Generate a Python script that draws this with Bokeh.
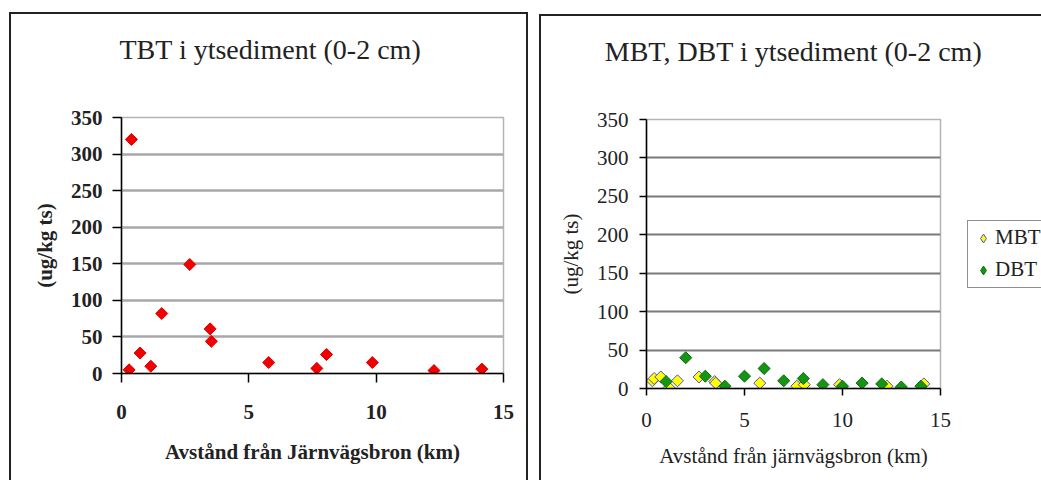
import math
from bokeh.plotting import figure
from bokeh.layouts import row
from bokeh.models import FixedTicker, Legend, LegendItem, Range1d, Title
from bokeh.embed import file_html
from bokeh.resources import INLINE

# ---- data ----
tbt_km = [0.30, 0.39, 0.73, 1.15, 1.58, 2.68, 3.48, 3.53, 5.78, 7.67, 8.05, 9.85, 12.27, 14.15]
tbt_val = [5, 320, 28, 10, 82, 149, 61, 44, 15, 7, 26, 15, 4, 6]

mbt_km = [0.30, 0.39, 0.73, 1.15, 1.58, 2.68, 3.48, 3.53, 5.78, 7.67, 8.05, 9.85, 12.27, 14.15]
mbt_val = [10, 13, 15, 1, 10, 15, 9, 7, 7, 3, 5, 5, 3, 6]

dbt_km = [1, 2, 3, 4, 5, 6, 7, 8, 9, 10, 11, 12, 13, 14]
dbt_val = [9, 40, 16, 3, 16, 26, 10, 13, 5, 3, 7, 6, 2, 3]

x_ticks = [0, 5, 10, 15]
y_ticks = [0, 50, 100, 150, 200, 250, 300, 350]
grid_ticks = [50, 100, 150, 200, 250, 300]

title_left = "TBT i ytsediment (0-2 cm)"
title_right = "MBT, DBT i ytsediment (0-2 cm)"
xlabel_left = "Avstånd från Järnvägsbron (km)"
xlabel_right = "Avstånd från järnvägsbron (km)"
ylabel = "(ug/kg ts)"
legend_labels = ["MBT", "DBT"]

FONT = "Liberation Serif"
PANEL_STYLE = {"outline": "2px solid #222", "outline-offset": "0px"}
MBT_FILL, MBT_LINE = "#ffff00", "#5050c0"
DBT_FILL, DBT_LINE = "#149614", "#0a6a0a"


def style_axes(p, bold, tick_out, xl_standoff, xa_standoff, yl_standoff, ya_standoff):
    p.xaxis.ticker = FixedTicker(ticks=x_ticks)
    p.yaxis.ticker = FixedTicker(ticks=y_ticks)
    p.xgrid.visible = False
    p.ygrid.ticker = FixedTicker(ticks=grid_ticks)
    for ax in (p.xaxis[0], p.yaxis[0]):
        ax.axis_line_color = "black"
        ax.axis_line_width = 1.5
        ax.major_tick_line_color = "black"
        ax.major_tick_line_width = 1.5
        ax.major_tick_out = tick_out
        ax.major_tick_in = 0
        ax.minor_tick_line_color = None
        ax.major_label_text_font = FONT
        ax.major_label_text_font_size = "21px"
        ax.major_label_text_color = "#222"
        ax.major_label_text_font_style = "bold" if bold else "normal"
        ax.axis_label_text_font = FONT
        ax.axis_label_text_font_size = "21px"
        ax.axis_label_text_color = "#222"
        ax.axis_label_text_font_style = "bold" if bold else "normal"
    p.xaxis.major_label_standoff = xl_standoff
    p.xaxis.axis_label_standoff = xa_standoff
    p.yaxis.major_label_standoff = yl_standoff
    p.yaxis.axis_label_standoff = ya_standoff
    p.outline_line_color = "#b4b4b4"
    p.outline_line_width = 1.5
    p.background_fill_color = "white"
    p.border_fill_color = "white"


def add_title(p, text, align, offset, gap):
    # the plot title sits outermost; a blank Title below it sets the gap to the frame
    p.title.text = text
    p.title.text_font = FONT
    p.title.text_font_size = "28px"
    p.title.text_font_style = "normal"
    p.title.text_color = "#222"
    p.title.align = align
    p.title.offset = offset
    p.title.standoff = 0
    p.add_layout(Title(text=" ", text_font_size="10px", standoff=gap), "above")


# ---- left panel ----
p1 = figure(frame_width=382, frame_height=256, x_range=Range1d(0, 15), y_range=Range1d(0, 350),
            output_backend="svg", toolbar_location=None,
            min_border_left=110, min_border_right=23, min_border_top=103, min_border_bottom=120,
            x_axis_label=xlabel_left, y_axis_label=ylabel)
p1.margin = (14, 0, 0, 11)
p1.styles = PANEL_STYLE
style_axes(p1, True, 9, 22, 18, 10, 11)
add_title(p1, title_left, "left", -2, 40)
p1.ygrid.grid_line_color = "#a8a8a8"
p1.ygrid.grid_line_width = 2.5
p1.scatter(tbt_km, tbt_val, marker="square", angle=math.pi / 4, size=8.5,
           fill_color="#f00000", line_color="#e00000", line_width=1)

# ---- right panel ----
p2 = figure(frame_width=294, frame_height=269, x_range=Range1d(0, 15), y_range=Range1d(0, 350),
            output_backend="svg", toolbar_location=None,
            min_border_left=105, min_border_right=101, min_border_top=92, min_border_bottom=116,
            x_axis_label=xlabel_right, y_axis_label=ylabel)
p2.margin = (16, 0, 0, 15)
p2.styles = PANEL_STYLE
style_axes(p2, False, 7, 17, 14, 11, 11)
add_title(p2, title_right, "center", 0, 40)
p2.ygrid.grid_line_color = "#7a7a7a"
p2.ygrid.grid_line_width = 2
# diamond legend swatches: drawn first, small, hidden under the series markers
k_mbt = p2.scatter(mbt_km, mbt_val, marker="diamond", size=5,
                   fill_color=MBT_FILL, line_color=MBT_LINE, line_width=1)
k_dbt = p2.scatter(dbt_km, dbt_val, marker="diamond", size=5,
                   fill_color=DBT_FILL, line_color=DBT_LINE, line_width=1)
r_mbt = p2.scatter(mbt_km, mbt_val, marker="square", angle=math.pi / 4, size=8.5,
                   fill_color=MBT_FILL, line_color=MBT_LINE, line_width=1)
r_dbt = p2.scatter(dbt_km, dbt_val, marker="square", angle=math.pi / 4, size=8.5,
                   fill_color=DBT_FILL, line_color=DBT_LINE, line_width=1)
legend = Legend(items=[LegendItem(label=legend_labels[0], renderers=[k_mbt]),
                       LegendItem(label=legend_labels[1], renderers=[k_dbt])],
                location="left", border_line_color="#222", border_line_width=1.5,
                background_fill_color="white", background_fill_alpha=1,
                label_text_font=FONT, label_text_font_size="21px", label_text_color="#222",
                glyph_width=22, glyph_height=24, label_height=26, spacing=6,
                padding=4, margin=27, label_standoff=1)
p2.add_layout(legend, "right")

layout = row(p1, p2, spacing=0)
layout.margin = 0

html = file_html(layout, INLINE)
html = html.replace("<body>", '<body style="margin:0;padding:0;overflow:hidden;">')
open("out.html", "w").write(html)
